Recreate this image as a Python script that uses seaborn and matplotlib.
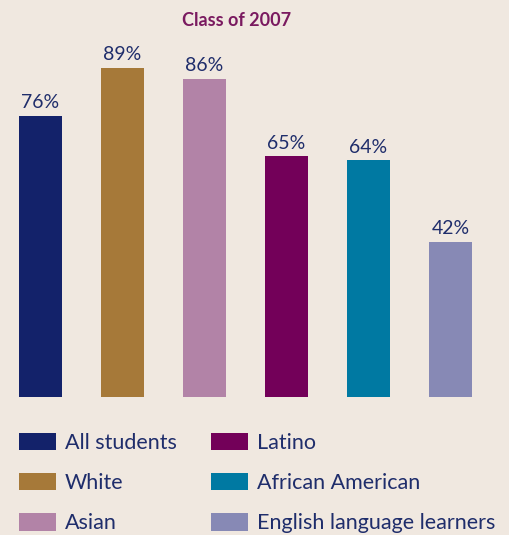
import matplotlib
matplotlib.use('Agg')
import matplotlib.pyplot as plt
from matplotlib.patches import Patch
import seaborn as sns
import pandas as pd

# ==== chart data ====
groups = ['All students', 'White', 'Asian', 'Latino', 'African American', 'English language learners']
rates = [76, 89, 86, 65, 64, 42]
colors = ['#13226A', '#A67939', '#B283A7', '#730059', '#0079A2', '#8789B5']
title = 'Class of 2007'

bg = '#F0E8E0'
navy = '#1F2D6B'

sns.set_theme(style='white')
plt.rcParams['font.family'] = ['Lato', 'DejaVu Sans']

df = pd.DataFrame({'group': groups, 'rate': rates})

fig = plt.figure(figsize=(5.09, 5.35), dpi=100, facecolor=bg)
ax = fig.add_axes([0, 0.258, 1, 0.742])
ax.set_facecolor(bg)

sns.barplot(data=df, x='group', y='rate', hue='group', palette=colors, order=groups,
            hue_order=groups, legend=False, width=0.525, saturation=1, linewidth=0, ax=ax)

ax.set_xlim(-0.494, 5.713)
ax.set_ylim(0, 107.3)
ax.axis('off')

# labels on top of bars
for i, v in enumerate(rates):
    ax.text(i, v + 1.2, f'{v}%', ha='center', va='bottom', fontsize=14, color=navy)

fig.text(0.464, 0.961, title, ha='center', va='center', fontsize=13, color='#7A1A60',
         fontweight='bold', fontstretch='condensed')

# legend (column-major order like the original)
handles = [Patch(facecolor=c, edgecolor='none') for c in colors]
fig.legend(handles, groups, ncol=2, loc='upper left', bbox_to_anchor=(19 / 509, 1 - 433 / 535),
           frameon=False, fontsize=15.5, labelcolor=navy, borderpad=0, borderaxespad=0,
           handlelength=1.72, handleheight=0.84, handletextpad=0.42, labelspacing=0.94,
           columnspacing=1.58)

plt.savefig('out.png', dpi=100, facecolor=bg)
plt.close()
